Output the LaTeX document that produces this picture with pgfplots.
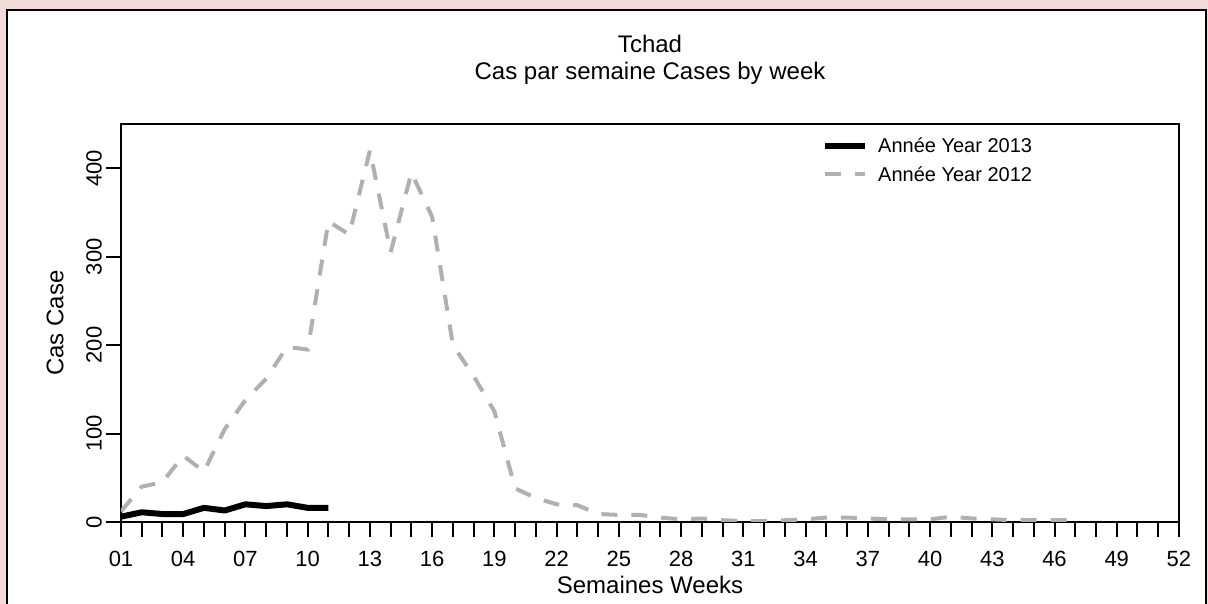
\documentclass[border=0pt]{standalone}
\usepackage{fontspec}
\setmainfont{Liberation Sans}
\usepackage{pgfplots}
\pgfplotsset{compat=1.18}
\definecolor{fondrose}{RGB}{242,220,219}
\definecolor{gris}{RGB}{176,176,176}

\begin{document}
\begin{tikzpicture}[x=1pt,y=1pt]
% axis box lower left corner is the origin; page is 1208 x 604
\fill[fondrose] (-121,-82) rectangle (1087,522);
\useasboundingbox (-121,-82) rectangle (1087,522);
\filldraw[fill=white, draw=black, line width=2pt] (-114,-100) rectangle (1085,512);

\node[anchor=base, font=\fontsize{24}{28}\selectfont] at (529,469) {Tchad};
\node[anchor=base, font=\fontsize{24}{28}\selectfont] at (529,442) {Cas par semaine Cases by week};

\begin{axis}[
  scale only axis, width=1058pt, height=398pt,
  xmin=1, xmax=52, ymin=0, ymax=450,
  axis line style={line width=2pt},
  tick align=outside, tick pos=left,
  major tick length=15pt, minor tick length=15pt,
  tick style={line width=2pt, black},
  xtick={1,4,...,52},
  xticklabels={01,04,07,10,13,16,19,22,25,28,31,34,37,40,43,46,49,52},
  minor xtick={1,...,52},
  ytick={0,100,200,300,400},
  tick label style={font=\fontsize{22}{25}\selectfont},
  yticklabel style={rotate=90, anchor=south, inner sep=4pt},
  xticklabel style={anchor=base, yshift=-30pt},
  /pgf/number format/assume math mode=true,
  xlabel={Semaines Weeks}, ylabel={Cas Case},
  label style={font=\fontsize{24}{28}\selectfont},
  xlabel style={at={(axis description cs:0.5,-0.158)}, anchor=center},
  ylabel style={at={(axis description cs:-0.0624,0.5)}, anchor=center},
  legend cell align=left,
  legend style={draw=none, fill=none, at={(axis description cs:0.6626,0.965)},
    anchor=north west, inner sep=0pt, row sep=12pt, column sep=10pt,
    font=\fontsize{20}{23}\selectfont, nodes={inner sep=0pt}},
  legend image code/.code={\draw[#1] (0pt,0pt) -- (40pt,0pt);},
]
\addplot[black, line width=6pt, line join=round] coordinates {
  (1,6) (2,11) (3,9) (4,9) (5,16) (6,13) (7,20) (8,18) (9,20) (10,16) (11,16)
};
\addlegendentry{Année Year 2013}
\addplot[gris, line width=4pt, dash pattern=on 16pt off 14pt] coordinates {
  (1,12) (2,40) (3,45) (4,75) (5,57) (6,105) (7,138) (8,162) (9,198) (10,195)
  (11,340) (12,325) (13,420) (14,305) (15,395) (16,345) (17,200) (18,165)
  (19,125) (20,38) (21,27) (22,20) (23,19) (24,9) (25,8) (26,8) (27,5) (28,3)
  (29,4) (30,2) (31,1) (32,1) (33,2) (34,3) (35,5) (36,5) (37,4) (38,3)
  (39,3) (40,3) (41,6) (42,4) (43,3) (44,2) (45,2) (46,2) (47,2)
};
\addlegendentry{Année Year 2012}
\end{axis}
\end{tikzpicture}
\end{document}
